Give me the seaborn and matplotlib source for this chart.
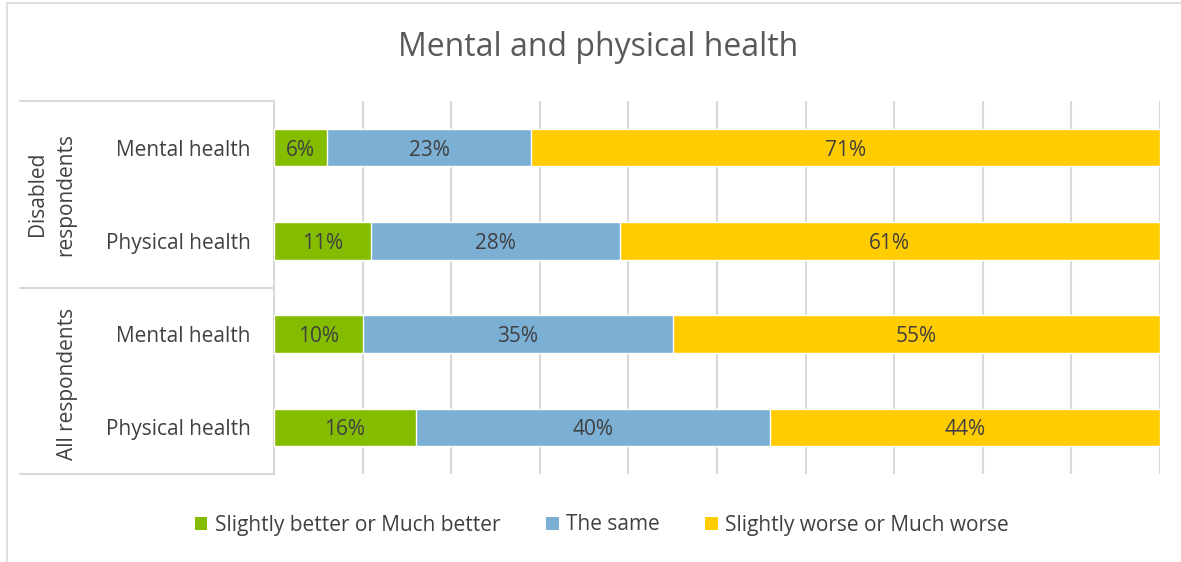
import numpy as np
import pandas as pd
import matplotlib.pyplot as plt
import seaborn as sns
from matplotlib.patches import Patch

# data
groups = ["Disabled\nrespondents", "All respondents"]
rows = ["D-Mental", "D-Physical", "A-Mental", "A-Physical"]
row_labels = ["Mental health", "Physical health", "Mental health", "Physical health"]
better = [6, 11, 10, 16]
same = [23, 28, 35, 40]
worse = [71, 61, 55, 44]
series_names = ["Slightly better or Much better", "The same", "Slightly worse or Much worse"]
colors = ["#84BD00", "#7BAFD4", "#FFCC00"]

sns.set_style("white")
plt.rcParams["font.family"] = ["Open Sans", "DejaVu Sans"]
txt = "#404040"
fs = 15

df = pd.DataFrame({"row": rows, "better": better, "same": same, "worse": worse})
df["c1"] = df["better"]
df["c2"] = df["better"] + df["same"]
df["c3"] = df["c2"] + df["worse"]

fig = plt.figure(figsize=(11.81, 5.62), dpi=100)
ax = fig.add_axes([274/1181, 1-474/562, 886/1181, 373/562])

# stacked bars drawn back to front
for col, c in [("c3", colors[2]), ("c2", colors[1]), ("c1", colors[0])]:
    sns.barplot(data=df, x=col, y="row", order=rows, orient="h", color=c,
                width=0.4, saturation=1, ax=ax, zorder=3)

for i in range(len(rows)):
    starts = [0, df["c1"][i], df["c2"][i]]
    vals = [better[i], same[i], worse[i]]
    for s, v in zip(starts, vals):
        ax.text(s + v/2, i, f"{v}%", ha="center", va="center_baseline", fontsize=fs,
                color=txt, zorder=4)

ax.set_xlim(0, 100)
ax.set_ylim(3.5, -0.5)
ax.set_xticks(np.arange(0, 101, 10))
ax.set_xticklabels([])
ax.tick_params(axis="x", length=0)
ax.grid(axis="x", color="#D9D9D9", linewidth=1.5, zorder=0)
ax.set_axisbelow(True)
ax.set_yticks(range(len(rows)))
ax.set_yticklabels(row_labels, fontsize=fs, color=txt)
ax.tick_params(axis="y", length=0, pad=17)
ax.set_xlabel("")
ax.set_ylabel("")
for s in ["top", "right", "bottom"]:
    ax.spines[s].set_visible(False)
ax.spines["left"].set_color("#D9D9D9")
ax.spines["left"].set_linewidth(1.5)

# group label box lines
x0 = (20 - 274) / 886
for yy in [1.0, 0.5, 0.0]:
    ax.plot([x0, 0], [yy, yy], transform=ax.transAxes, color="#D9D9D9",
            lw=1.5, clip_on=False)
ax.text((52 - 274) / 886, (474 - 194) / 373, groups[0], transform=ax.transAxes,
        rotation=90, ha="center", va="center", fontsize=fs, color=txt,
        linespacing=1.45)
ax.text((68 - 274) / 886, (474 - 384) / 373, groups[1], transform=ax.transAxes,
        rotation=90, ha="center", va="center", fontsize=fs, color=txt)

fig.suptitle("Mental and physical health", x=598/1181, y=1-48/562, va="center",
             fontsize=23, color="#595959")

handles = [Patch(facecolor=c, edgecolor="none") for c in colors]
fig.legend(handles, series_names, loc="center", bbox_to_anchor=(602/1181, 1-525/562),
           ncol=3, frameon=False, fontsize=fs, labelcolor=txt,
           handlelength=0.6, handleheight=0.6, handletextpad=0.35, columnspacing=2.2)

# outer chart frame
fig.add_artist(plt.Line2D([7/1181, 7/1181], [0, 1-3/562], color="#D9D9D9", lw=1.2))
fig.add_artist(plt.Line2D([7/1181, 1], [1-3/562, 1-3/562], color="#D9D9D9", lw=1.2))

fig.savefig("out.png", dpi=100)
